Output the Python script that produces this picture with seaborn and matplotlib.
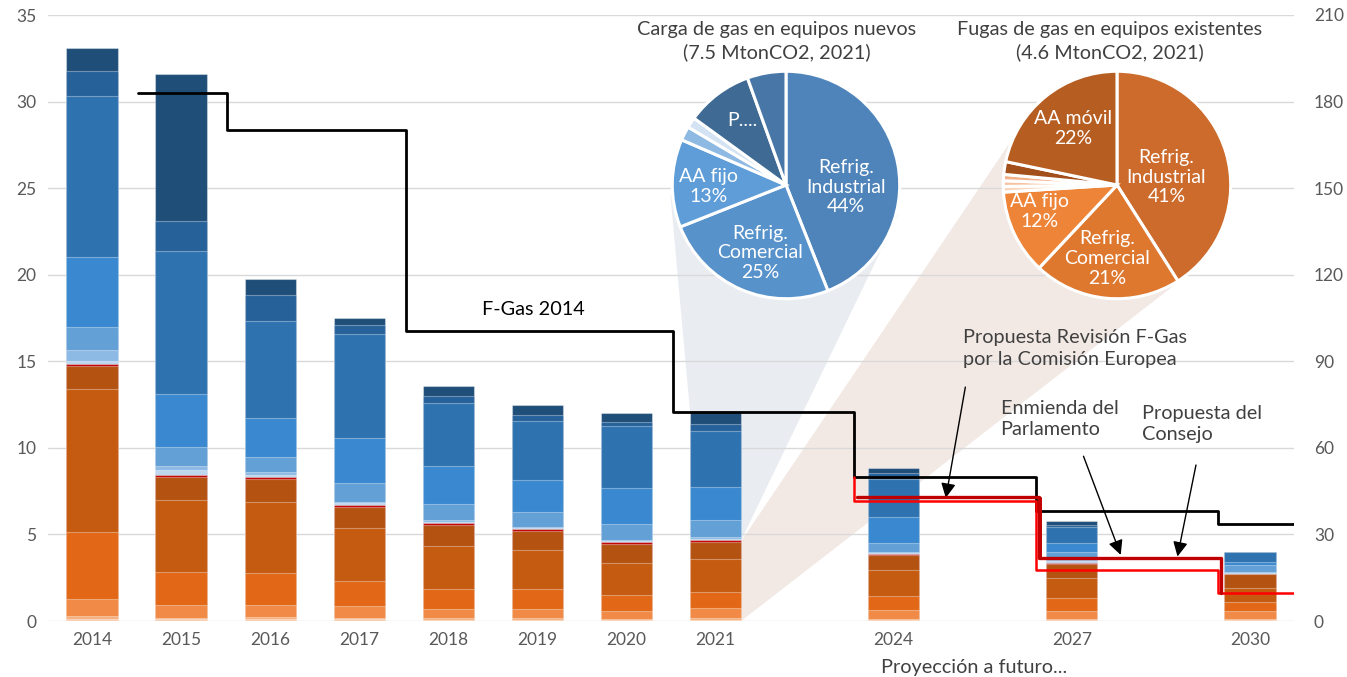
import numpy as np
import pandas as pd
import matplotlib
matplotlib.use("Agg")
import matplotlib.pyplot as plt
import seaborn as sns
from matplotlib.patches import Polygon

# ---- data (MtonCO2 eq) ----
years = ["2014", "2015", "2016", "2017", "2018", "2019", "2020", "2021", "2024", "2027", "2030"]
slots = [0, 1, 2, 3, 4, 5, 6, 7, 9, 11, 13]

# fugas de gas en equipos existentes (bottom up)
fug_otros1 = [0.14, 0.10, 0.12, 0.10, 0.08, 0.08, 0.07, 0.08, 0.06, 0.05, 0.05]
fug_otros2 = [0.16, 0.08, 0.13, 0.09, 0.08, 0.08, 0.07, 0.08, 0.06, 0.05, 0.07]
fug_aa_fijo = [0.98, 0.76, 0.69, 0.68, 0.51, 0.53, 0.44, 0.57, 0.51, 0.48, 0.46]
fug_comercial = [3.87, 1.88, 1.81, 1.44, 1.16, 1.14, 0.92, 0.94, 0.81, 0.73, 0.50]
fug_industrial = [8.27, 4.17, 4.11, 3.04, 2.50, 2.25, 1.87, 1.89, 1.50, 1.16, 0.81]
fug_aa_movil = [1.29, 1.30, 1.32, 1.23, 1.20, 1.12, 1.08, 1.00, 0.85, 0.82, 0.81]
fug_otros3 = [0.13, 0.14, 0.12, 0.12, 0.11, 0.10, 0.09, 0.10, 0.08, 0.05, 0.03]
# carga de gas en equipos nuevos
car_otros1 = [0.16, 0.27, 0.15, 0.11, 0.10, 0.08, 0.07, 0.09, 0.07, 0.10, 0.05]
car_otros2 = [0.64, 0.23, 0.16, 0.05, 0.09, 0.07, 0.07, 0.10, 0.07, 0.08, 0.05]
car_aa_fijo = [1.33, 1.10, 0.84, 1.13, 0.93, 0.85, 0.92, 0.98, 0.48, 0.48, 0.41]
car_comercial = [4.06, 3.09, 2.26, 2.56, 2.19, 1.84, 2.06, 1.89, 1.50, 0.52, 0.19]
car_industrial = [9.27, 8.25, 5.60, 6.01, 3.62, 3.41, 3.58, 3.25, 2.21, 0.93, 0.54]
car_otros3 = [1.49, 1.72, 1.50, 0.52, 0.41, 0.35, 0.25, 0.41, 0.35, 0.10, 0.00]
car_p = [1.33, 8.52, 0.92, 0.44, 0.61, 0.58, 0.54, 0.77, 0.27, 0.23, 0.00]

# limites (MtonCO2 eq, eje derecho)
fgas_years = [2015, 2016, 2018, 2021, 2024, 2027, 2030]
fgas_vals = [183.1, 170.2, 100.6, 72.3, 49.8, 38.1, 33.7]
com_years = [2024, 2024, 2027, 2030]
com_vals = [49.8, 41.7, 17.7, 9.7]
par_years = [2024, 2027, 2030]
par_vals = [43.0, 22.0, 9.7]
con_years = [2024, 2027, 2030]
con_vals = [42.5, 21.4, 9.7]

# pies 2021
pie_new_vals = [44, 25, 12.5, 2, 1.5, 9.5, 5.5]
pie_new_labels = ["Refrig.\nIndustrial\n44%", "Refrig.\nComercial\n25%", "AA fijo\n13%", "", "", "P....", ""]
pie_old_vals = [41, 21, 12, 0.8, 0.8, 0.9, 1.8, 21.7]
pie_old_labels = ["Refrig.\nIndustrial\n41%", "Refrig.\nComercial\n21%", "AA fijo\n12%", "", "", "", "", "AA móvil\n22%"]

series = [
    (fug_otros1, "#F9CDAE"), (fug_otros2, "#F5B07F"), (fug_aa_fijo, "#F08A46"),
    (fug_comercial, "#E26817"), (fug_industrial, "#C55A11"), (fug_aa_movil, "#B45212"),
    (fug_otros3, "#C00000"),
    (car_otros1, "#BDD7EE"), (car_otros2, "#8DBAE4"), (car_aa_fijo, "#62A0D6"),
    (car_comercial, "#3A88CF"), (car_industrial, "#2E73B0"), (car_otros3, "#26619A"),
    (car_p, "#1F4E79"),
]

sns.set_theme(style="white")
plt.rcParams["font.family"] = ["Lato", "DejaVu Sans"]
grey = "#595959"

fig = plt.figure(figsize=(13.47, 6.77), dpi=100)
ax = fig.add_axes([47.5 / 1347, 56 / 677, 1247 / 1347, 606 / 677])

cum = np.cumsum(np.array([s[0] for s in series]), axis=0)
for i in range(len(series) - 1, -1, -1):
    df = pd.DataFrame({"pos": slots, "h": cum[i]})
    sns.barplot(data=df, x="pos", y="h", native_scale=True, width=0.575,
                color=series[i][1], saturation=1, errorbar=None,
                edgecolor=(1, 1, 1, 0.35), linewidth=0.8, ax=ax, zorder=3)

ax.set_xlim(-0.5, 13.5)
ax.set_ylim(0, 35)
ax.set_yticks(range(0, 36, 5))
ax.set_xticks(slots)
ax.set_xticklabels(years)
ax.set_xlabel("")
ax.set_ylabel("")
ax.tick_params(axis="both", colors=grey, labelsize=12.5, length=0, pad=8)
ax.yaxis.grid(True, color="#D9D9D9", linewidth=1)
ax.set_axisbelow(True)
for s in ax.spines.values():
    s.set_visible(False)

ax2 = ax.twinx()
ax2.set_ylim(0, 210)
ax2.set_yticks(range(0, 211, 30))
ax2.tick_params(axis="y", colors=grey, labelsize=12.5, length=0, pad=14)
ax2.grid(False)
for s in ax2.spines.values():
    s.set_visible(False)


def xpos(yr):
    if yr <= 2021:
        return yr - 2014.48
    return 6.52 + (yr - 2021) * 0.68


def steps(yrs, vals, extend=True):
    xs = [xpos(y) for y in yrs]
    vs = list(vals)
    if extend:
        xs.append(13.5)
        vs.append(vals[-1])
    return xs, vs


x, v = steps(fgas_years, fgas_vals)
ax2.plot(x, v, drawstyle="steps-post", color="black", lw=2, zorder=5)
x, v = steps(com_years, com_vals)
ax2.plot(x, v, drawstyle="steps-post", color="#FF0000", lw=1.8, zorder=5)
x, v = steps(par_years, par_vals, extend=False)
ax2.plot(np.array(x) + 0.03, v, drawstyle="steps-post", color="#C00000", lw=2.4, zorder=5)
x, v = steps(con_years, con_vals, extend=False)
ax2.plot(np.array(x) + 0.05, v, drawstyle="steps-post", color="#C00000", lw=1.4, zorder=5)

ax2.set_xlim(-0.5, 13.5)

fs = 14.3
ann = dict(fontsize=fs, color="#404040", va="center", ha="left", linespacing=1.3)
ax2.text(4.96, 108, "F-Gas 2014", fontsize=fs, color="black", ha="center", va="center")
ax2.text(9.78, 94.4, "Propuesta Revisión F-Gas\npor la Comisión Europea", **ann)
ax2.text(10.2, 70.0, "Enmienda del\nParlamento", **ann)
ax2.text(11.79, 68.4, "Propuesta del\nConsejo", **ann)
arr = dict(arrowstyle="-|>", color="black", lw=1, mutation_scale=22)
ax2.annotate("", xy=(9.58, com_vals[1]), xytext=(9.81, 82), arrowprops=arr)
ax2.annotate("", xy=(11.56, par_vals[1]), xytext=(11.12, 58), arrowprops=arr)
ax2.annotate("", xy=(12.18, con_vals[1]), xytext=(12.40, 55), arrowprops=arr)

fig.text(974 / 1347, 1 - 667 / 677, "Proyección a futuro...", fontsize=fs,
         color="#404040", ha="center", va="center")

# pies
R = 116
new_c = (786, 185)
old_c = (1117, 185)


def pie_axes(c):
    return fig.add_axes([(c[0] - R) / 1347, (677 - c[1] - R) / 677, 2 * R / 1347, 2 * R / 677])


def pix_to_data(px, py):
    return ax.transData.inverted().transform((px, 677 - py))


def pie_pt(c, ang):
    a = np.deg2rad(ang)
    return pix_to_data(c[0] + R * np.cos(a), c[1] - R * np.sin(a))


# projection wedges behind the bars
bx = 7 + 0.2875
blue_top = cum[-1][7]
blue_bot = cum[6][7]
gray = [(7 - 0.2875, blue_top), (bx, blue_bot), tuple(pie_pt(new_c, -15)), tuple(pie_pt(new_c, 185))]
beige = [(bx, blue_bot - 0.05), (bx, 0), tuple(pie_pt(old_c, -62)), tuple(pie_pt(old_c, 160))]
ax.add_patch(Polygon(gray, closed=True, facecolor="#E9ECF1", edgecolor="none", zorder=0.3))
ax.add_patch(Polygon(beige, closed=True, facecolor="#F2E9E5", edgecolor="none", zorder=0.3))


def draw_pie(c, vals, cols, labels, angs, rads):
    pa = pie_axes(c)
    pa.pie(vals, colors=cols, startangle=90, counterclock=False,
           wedgeprops=dict(edgecolor="white", linewidth=2.2))
    for lab, a, r in zip(labels, angs, rads):
        if lab:
            m = np.deg2rad(a)
            pa.text(r * np.cos(m), r * np.sin(m), lab, ha="center", va="center", color="white",
                    fontsize=14, linespacing=1.2)
    pa.set_xlim(-1.02, 1.02)
    pa.set_ylim(-1.02, 1.02)


draw_pie(new_c, pie_new_vals,
         ["#4E84B9", "#5792CB", "#5E9DD8", "#8DB9E3", "#D3E3F3", "#3E6A94", "#4877A7"],
         pie_new_labels, [-2, 249, 181, 0, 0, 124, 0], [0.53, 0.64, 0.68, 0, 0, 0.68, 0])
draw_pie(old_c, pie_old_vals,
         ["#CC6B2B", "#DF782F", "#EE8437", "#F9D6BD", "#F6C29F", "#F2B08A", "#A24F1B", "#B65E22"],
         pie_old_labels, [9, 262, 199, 0, 0, 0, 0, 128], [0.44, 0.65, 0.72, 0, 0, 0, 0, 0.63])

fig.text(777 / 1347, 1 - 41 / 677, "Carga de gas en equipos nuevos\n(7.5 MtonCO2, 2021)",
         fontsize=fs, color="#404040", ha="center", va="center", linespacing=1.4)
fig.text(1110 / 1347, 1 - 41 / 677, "Fugas de gas en equipos existentes\n(4.6 MtonCO2, 2021)",
         fontsize=fs, color="#404040", ha="center", va="center", linespacing=1.4)

fig.savefig("out.png", dpi=100)
